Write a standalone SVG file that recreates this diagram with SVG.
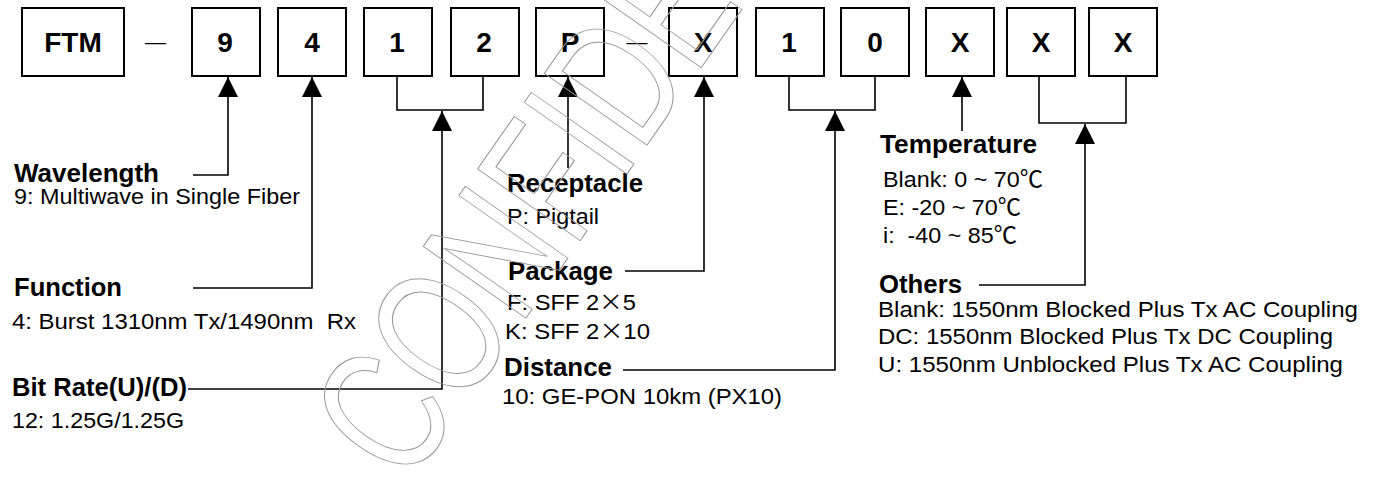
<svg xmlns="http://www.w3.org/2000/svg" width="1375" height="479" viewBox="0 0 1375 479">
<style>
.box{fill:#fff;stroke:#000;stroke-width:2}
.bt{font-family:"Liberation Sans",Arial,sans-serif;font-weight:bold;font-size:28px;text-anchor:middle;fill:#000}
.lb{font-family:"Liberation Sans",Arial,sans-serif;font-weight:bold;font-size:25px;fill:#000}
.tx{font-family:"Liberation Sans",Arial,sans-serif;font-size:22.5px;fill:#000;white-space:pre}
.cjk{font-family:"Noto Sans CJK SC",sans-serif}
.dash{font-family:"Liberation Sans",Arial,sans-serif;font-size:21px;fill:#000;text-anchor:middle}
.conn path{fill:none;stroke:#000;stroke-width:1.6}
.wm{font-family:"Liberation Sans",Arial,sans-serif;font-size:182px;fill:none;stroke:#9a9a9a;stroke-width:1.1}
</style>
<defs>
<marker id="ah" markerUnits="userSpaceOnUse" markerWidth="20" markerHeight="22" viewBox="0 0 20 22" refX="20" refY="10" orient="auto">
<path d="M0,0 L20,10 L0,20 Z" fill="#000"/>
</marker>
</defs>
<rect width="1375" height="479" fill="#fff"/>
<g id="node-ftm"><rect class="box" x="22" y="8" width="102" height="68"/><text class="bt" x="73" y="52">FTM</text></g>
<text class="dash" x="155.5" y="49">—</text>
<g id="node-9"><rect class="box" x="192" y="8" width="68" height="68"/><text class="bt" x="225" y="52">9</text></g>
<g id="node-4"><rect class="box" x="278" y="8" width="68" height="68"/><text class="bt" x="312" y="52">4</text></g>
<g id="node-1a"><rect class="box" x="364" y="8" width="68" height="68"/><text class="bt" x="397" y="52">1</text></g>
<g id="node-2"><rect class="box" x="451" y="8" width="68" height="68"/><text class="bt" x="484" y="52">2</text></g>
<g id="node-p"><rect class="box" x="536" y="8" width="68" height="68"/><text class="bt" x="570" y="52">P</text></g>
<text class="dash" x="637" y="49">—</text>
<g id="node-x1"><rect class="box" x="669" y="8" width="68" height="68"/><text class="bt" x="703" y="52">X</text></g>
<g id="node-1b"><rect class="box" x="756" y="8" width="68" height="68"/><text class="bt" x="789" y="52">1</text></g>
<g id="node-0"><rect class="box" x="841" y="8" width="68" height="68"/><text class="bt" x="875" y="52">0</text></g>
<g id="node-x2"><rect class="box" x="926" y="8" width="68" height="68"/><text class="bt" x="960" y="52">X</text></g>
<g id="node-x3"><rect class="box" x="1007" y="8" width="68" height="68"/><text class="bt" x="1041" y="52">X</text></g>
<g id="node-x4"><rect class="box" x="1089" y="8" width="68" height="68"/><text class="bt" x="1123" y="52">X</text></g>

<g id="connectors" class="conn">
<path d="M193,175 H228 V77" marker-end="url(#ah)"/>
<path d="M193,288 H312 V77" marker-end="url(#ah)"/>
<path d="M397,76 V110 H483 V76"/>
<path d="M188,389 H442 V111" marker-end="url(#ah)"/>
<path d="M568,168 V77" marker-end="url(#ah)"/>
<path d="M625,271 H704 V77" marker-end="url(#ah)"/>
<path d="M789,76 V110 H875 V76"/>
<path d="M623,370 H835 V111" marker-end="url(#ah)"/>
<path d="M962,131 V77" marker-end="url(#ah)"/>
<path d="M1039,76 V123 H1126 V76"/>
<path d="M979,285 H1085 V124" marker-end="url(#ah)"/>
</g>

<g id="label-wavelength">
<text class="lb" x="14" y="182" textLength="145" lengthAdjust="spacingAndGlyphs">Wavelength</text>
<text class="tx" x="14" y="204" textLength="286" lengthAdjust="spacingAndGlyphs">9: Multiwave in Single Fiber</text>
</g>
<g id="label-function">
<text class="lb" x="14" y="296" textLength="108" lengthAdjust="spacingAndGlyphs">Function</text>
<text class="tx" x="12" y="329" textLength="344" lengthAdjust="spacingAndGlyphs">4: Burst 1310nm Tx/1490nm  Rx</text>
</g>
<g id="label-bitrate">
<text class="lb" x="12" y="396" textLength="175" lengthAdjust="spacingAndGlyphs">Bit Rate(U)/(D)</text>
<text class="tx" x="12" y="428" textLength="172" lengthAdjust="spacingAndGlyphs">12: 1.25G/1.25G</text>
</g>
<g id="label-receptacle">
<text class="lb" x="507" y="192" textLength="136" lengthAdjust="spacingAndGlyphs">Receptacle</text>
<text class="tx" x="507" y="224" textLength="92" lengthAdjust="spacingAndGlyphs">P: Pigtail</text>
</g>
<g id="label-package">
<text class="lb" x="508" y="280" textLength="105" lengthAdjust="spacingAndGlyphs">Package</text>
<text class="tx" x="507" y="310" textLength="129" lengthAdjust="spacingAndGlyphs">F: SFF 2<tspan class="cjk">×</tspan>5</text>
<text class="tx" x="505" y="339" textLength="145" lengthAdjust="spacingAndGlyphs">K: SFF 2<tspan class="cjk">×</tspan>10</text>
</g>
<g id="label-distance">
<text class="lb" x="504" y="376" textLength="108" lengthAdjust="spacingAndGlyphs">Distance</text>
<text class="tx" x="502" y="404" textLength="280" lengthAdjust="spacingAndGlyphs">10: GE-PON 10km (PX10)</text>
</g>
<g id="label-temperature">
<text class="lb" x="880" y="153" textLength="157" lengthAdjust="spacingAndGlyphs">Temperature</text>
<text class="tx" x="883" y="187" textLength="160" lengthAdjust="spacingAndGlyphs">Blank: 0 ~ 70<tspan class="cjk">℃</tspan></text>
<text class="tx" x="883" y="215" textLength="138" lengthAdjust="spacingAndGlyphs">E: -20 ~ 70<tspan class="cjk">℃</tspan></text>
<text class="tx" x="883" y="243" textLength="134" lengthAdjust="spacingAndGlyphs">i:  -40 ~ 85<tspan class="cjk">℃</tspan></text>
</g>
<g id="label-others">
<text class="lb" x="879" y="293" textLength="83" lengthAdjust="spacingAndGlyphs">Others</text>
<text class="tx" x="878" y="317" textLength="480" lengthAdjust="spacingAndGlyphs">Blank: 1550nm Blocked Plus Tx AC Coupling</text>
<text class="tx" x="878" y="344" textLength="455" lengthAdjust="spacingAndGlyphs">DC: 1550nm Blocked Plus Tx DC Coupling</text>
<text class="tx" x="878" y="372" textLength="465" lengthAdjust="spacingAndGlyphs">U: 1550nm Unblocked Plus Tx AC Coupling</text>
</g>

<g id="watermark">
<text class="wm" transform="translate(407,488) rotate(-55) scale(0.72,1)">CONFIDENTIAL</text>
</g>
</svg>
